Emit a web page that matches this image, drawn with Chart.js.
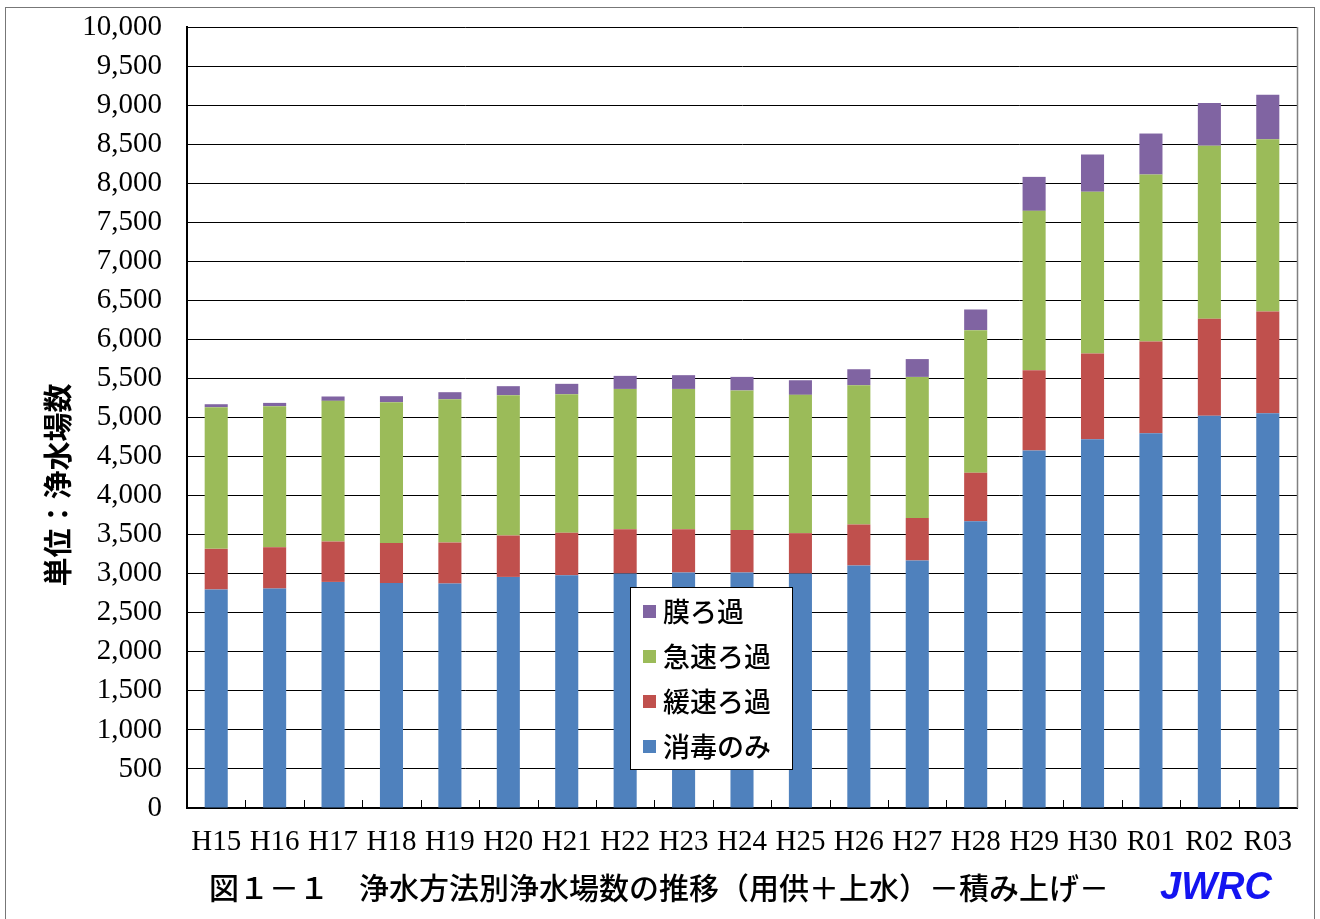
<!DOCTYPE html>
<html>
<head>
<meta charset="utf-8">
<script src="https://cdn.jsdelivr.net/npm/chart.js@4.4.0/dist/chart.umd.min.js"></script>
<style>
  body { margin: 0; background: #fff; }
</style>
</head>
<body>
<canvas id="grafica" width="1320" height="919"></canvas>
<script>
const categories = ['H15', 'H16', 'H17', 'H18', 'H19', 'H20', 'H21', 'H22', 'H23', 'H24',
  'H25', 'H26', 'H27', 'H28', 'H29', 'H30', 'R01', 'R02', 'R03'];

// 浄水場数（積み上げ）
const shodoku = [2798, 2810, 2895, 2882, 2874, 2959, 2981, 3002, 3015, 3015,
  3002, 3105, 3169, 3672, 4577, 4722, 4797, 5024, 5055];
const kansoku = [520, 529, 517, 512, 525, 530, 542, 568, 555, 546,
  517, 525, 545, 619, 1029, 1097, 1176, 1239, 1302];
const kyusoku = [1814, 1806, 1801, 1802, 1835, 1797, 1775, 1796, 1796, 1785,
  1771, 1783, 1806, 1827, 2040, 2070, 2138, 2215, 2206];
const maku = [38, 42, 56, 77, 90, 115, 133, 167, 176, 174,
  187, 205, 228, 265, 435, 478, 525, 550, 568];

const yMax = 10000;
const yStep = 500;

const jp = '"Noto Sans CJK JP", sans-serif';
const serif = '"Liberation Serif", serif';

const decor = {
  id: 'decor',
  beforeDraw(chart) {
    const ctx = chart.ctx;
    ctx.save();
    ctx.fillStyle = '#fff';
    ctx.fillRect(0, 0, chart.width, chart.height);
    ctx.restore();
  },
  afterDraw(chart) {
    const ctx = chart.ctx;
    const a = chart.chartArea;
    const x = chart.scales.x;
    ctx.save();

    // right edge of plot
    ctx.strokeStyle = '#808080';
    ctx.lineWidth = 1.5;
    ctx.beginPath();
    ctx.moveTo(a.right + 0.5, a.top);
    ctx.lineTo(a.right + 0.5, a.bottom);
    ctx.stroke();

    // small tick marks between categories, pointing up
    ctx.strokeStyle = '#000';
    ctx.lineWidth = 1;
    for (let i = 1; i < categories.length; i++) {
      const px = Math.round((x.getPixelForValue(i - 1) + x.getPixelForValue(i)) / 2) + 0.5;
      ctx.beginPath();
      ctx.moveTo(px, a.bottom);
      ctx.lineTo(px, a.bottom - 8);
      ctx.stroke();
    }

    // legend box
    ctx.fillStyle = '#fff';
    ctx.fillRect(630, 587, 162, 182);
    ctx.strokeStyle = '#000';
    ctx.strokeRect(630.5, 587.5, 162, 182);
    ctx.font = '500 27px ' + jp;
    ctx.textBaseline = 'middle';
    ctx.textAlign = 'left';
    chart.data.datasets.slice().reverse().forEach((ds, i) => {
      const cy = 611 + i * 45;
      ctx.fillStyle = ds.backgroundColor;
      ctx.fillRect(643, cy - 6, 13, 13);
      ctx.fillStyle = '#000';
      ctx.fillText(ds.label, 663, cy + 1);
    });

    // y axis title
    ctx.save();
    ctx.translate(58, 485);
    ctx.rotate(-Math.PI / 2);
    ctx.textAlign = 'center';
    ctx.font = 'bold 29px ' + jp;
    ctx.fillStyle = '#000';
    ctx.fillText('単位：浄水場数', 0, 0);
    ctx.restore();

    // caption
    ctx.textAlign = 'center';
    ctx.font = '500 30px ' + jp;
    ctx.fillStyle = '#000';
    ctx.fillText('図１－１　浄水方法別浄水場数の推移（用供＋上水）－積み上げ－', 659, 888);

    ctx.textAlign = 'left';
    ctx.font = 'italic bold 38px "Liberation Sans", sans-serif';
    ctx.fillStyle = '#1414f0';
    ctx.fillText('JWRC', 1160, 889);

    // outer frame
    ctx.strokeStyle = '#777';
    ctx.lineWidth = 1;
    ctx.strokeRect(5.5, 7.5, 1309, 930);
    ctx.restore();
  }
};

new Chart(document.getElementById('grafica'), {
  type: 'bar',
  data: {
    labels: categories,
    datasets: [
      { label: '消毒のみ', data: shodoku, backgroundColor: '#4F81BD' },
      { label: '緩速ろ過', data: kansoku, backgroundColor: '#C0504D' },
      { label: '急速ろ過', data: kyusoku, backgroundColor: '#9BBB59' },
      { label: '膜ろ過', data: maku, backgroundColor: '#8064A2' }
    ]
  },
  options: {
    responsive: false,
    animation: false,
    devicePixelRatio: 1,
    datasets: { bar: { barPercentage: 0.395, categoryPercentage: 1.0, borderWidth: 0 } },
    layout: { padding: { left: 0, right: 23, top: 27, bottom: 0 } },
    plugins: {
      legend: { display: false },
      tooltip: { enabled: false }
    },
    scales: {
      x: {
        stacked: true,
        grid: { display: false, drawTicks: false },
        border: { color: '#000', width: 2 },
        ticks: {
          color: '#000',
          font: { family: serif, size: 29 },
          padding: 17,
          autoSkip: false,
          maxRotation: 0
        },
        afterFit(s) { s.height = 111; }
      },
      y: {
        stacked: true,
        min: 0,
        max: yMax,
        grid: { color: '#000', lineWidth: 1, drawTicks: false },
        border: { color: '#000', width: 2 },
        ticks: {
          stepSize: yStep,
          padding: 25,
          color: '#000',
          font: { family: serif, size: 29 },
          callback: v => v.toLocaleString('en-US')
        },
        afterFit(s) {
          s.width = 187;
          s.paddingTop = 0;
          s.paddingBottom = 0;
        }
      }
    }
  },
  plugins: [decor]
});
</script>
</body>
</html>
